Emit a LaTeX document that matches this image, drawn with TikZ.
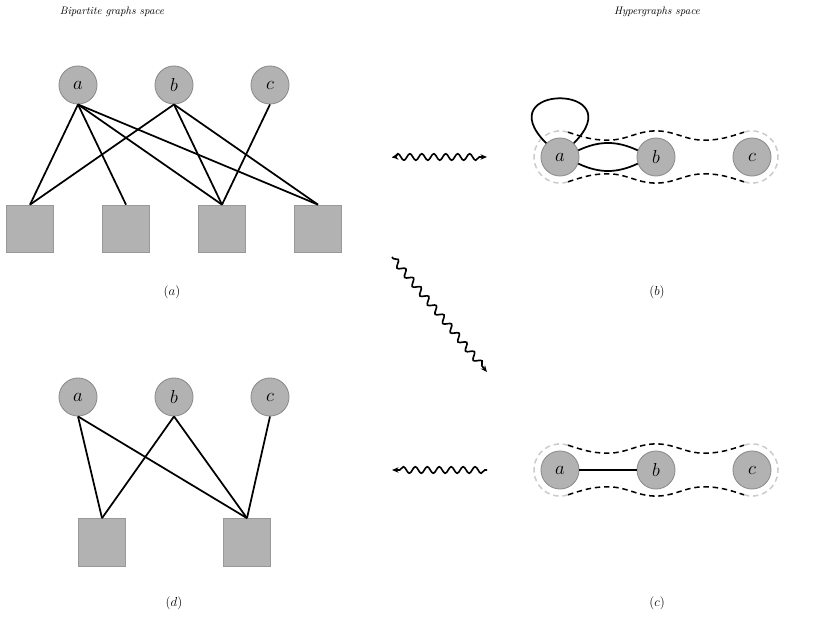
\documentclass[tikz,border=0pt]{standalone}
\usetikzlibrary{arrows.meta,decorations.pathmorphing,calc}

\tikzset{
  vertex/.style={circle, fill=black!30, draw=black!45, line width=0.8pt,
    minimum size=35pt, inner sep=0pt, font=\LARGE},
  hedge/.style={rectangle, fill=black!30, draw=black!40, line width=0.8pt,
    minimum size=44pt, inner sep=0pt},
  link/.style={line width=1.6pt},
  caption/.style={font=\large},
  halo/.style={black!20, line width=1.4pt, dash pattern=on 5pt off 3.5pt},
  hull/.style={black, line width=1.4pt, dash pattern=on 5pt off 3.5pt},
  wiggle/.style={line width=1.5pt, decorate,
    decoration={snake, amplitude=3pt, segment length=11pt,
      pre length=2pt, post length=5pt}},
}

% dashed outline of the hyperedge {#1,#2,#3}
\newcommand{\hyperhull}[3]{%
  \draw[halo] ([shift={(72:24pt)}]#1.center) arc[start angle=72, end angle=288, radius=24pt];
  \draw[halo] ([shift={(-108:24pt)}]#3.center) arc[start angle=-108, end angle=108, radius=24pt];
  \draw[hull] ([shift={(72:24pt)}]#1.center)
    to[out=-18,in=180] ($(#1)!.5!(#2)+(0,15.5pt)$)
    to[out=0,in=180] ([shift={(90:24pt)}]#2.center)
    to[out=0,in=180] ($(#2)!.5!(#3)+(0,15.5pt)$)
    to[out=0,in=198] ([shift={(108:24pt)}]#3.center);
  \draw[hull] ([shift={(-72:24pt)}]#1.center)
    to[out=18,in=180] ($(#1)!.5!(#2)+(0,-15.5pt)$)
    to[out=0,in=180] ([shift={(-90:24pt)}]#2.center)
    to[out=0,in=180] ($(#2)!.5!(#3)+(0,-15.5pt)$)
    to[out=0,in=162] ([shift={(-108:24pt)}]#3.center);
}

\begin{document}
\begin{tikzpicture}[x=0.92pt, y=0.92pt]
  \useasboundingbox (0,0) rectangle (830,617);

  \node[font=\itshape] (bipTitle) at (112,605) {Bipartite graphs space};
  \node[font=\itshape] (hypTitle) at (657,605) {Hypergraphs space};

  % (a) bipartite graph
  \foreach \n/\x in {a/78,b/174,c/270}
    \node[vertex] (u\n) at (\x,532) {$\n$};
  \foreach \i/\x in {1/30,2/126,3/222,4/318}
    \node[hedge] (ue\i) at (\x,388) {};
  \foreach \u/\v in {a/1,a/2,a/3,a/4,b/1,b/3,b/4,c/3}
    \draw[link] (u\u.south) -- (ue\v.north);
  \node[caption] (capA) at (172,325) {$(a)$};

  % (b) hypergraph with multi-edges
  \foreach \n/\x in {a/560,b/656,c/752}
    \node[vertex] (h\n) at (\x,460) {$\n$};
  \hyperhull{ha}{hb}{hc}
  \draw[link] (ha.135) .. controls +(135:78pt) and +(45:78pt) .. (ha.45);
  \draw[link] (ha.20) to[bend left=25] (hb.160);
  \draw[link] (ha.-20) to[bend right=25] (hb.-160);
  \node[caption] (capB) at (657,325) {$(b)$};

  % (c) hypergraph, simple
  \foreach \n/\x in {a/560,b/656,c/752}
    \node[vertex] (k\n) at (\x,147) {$\n$};
  \hyperhull{ka}{kb}{kc}
  \draw[link] (ka) -- (kb);
  \node[caption] (capC) at (657,14) {$(c)$};

  % (d) bipartite graph
  \foreach \n/\x in {a/78,b/174,c/270}
    \node[vertex] (l\n) at (\x,220) {$\n$};
  \foreach \i/\x in {1/102,2/247}
    \node[hedge] (le\i) at (\x,74.5) {};
  \foreach \u/\v in {a/1,a/2,b/1,b/2,c/2}
    \draw[link] (l\u.south) -- (le\v.north);
  \node[caption] (capD) at (174,14) {$(d)$};

  % transformations
  \coordinate (topL) at (392,460);
  \coordinate (topR) at (487,460);
  \coordinate (diagS) at (392,360);
  \coordinate (diagE) at (487,245);
  \coordinate (botR) at (487,147);
  \coordinate (botL) at (392,147);
  \draw[wiggle, {Stealth[length=6pt,width=5pt]}-{Stealth[length=6pt,width=5pt]}] (topL) -- (topR);
  \draw[wiggle, -{Stealth[length=6pt,width=5pt]}] (diagS) -- (diagE);
  \draw[wiggle, -{Stealth[length=6pt,width=5pt]}] (botR) -- (botL);
\end{tikzpicture}
\end{document}
